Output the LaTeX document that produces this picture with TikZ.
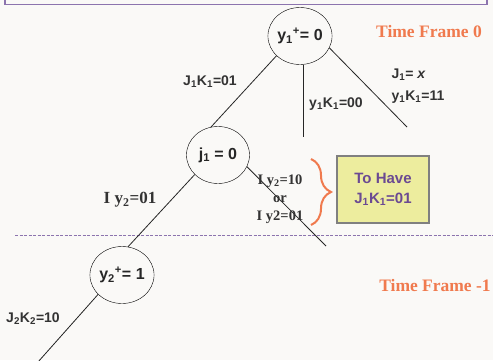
\documentclass[tikz,border=0pt]{standalone}
\usepackage{fontspec}
\setmainfont{Liberation Serif}
\setsansfont{Liberation Sans}
\usepackage{xcolor}
\usepackage{tikz}
\usetikzlibrary{shapes.geometric,decorations.pathreplacing}

\definecolor{bgpaper}{HTML}{FAF9F7}
\definecolor{tforange}{HTML}{F07A4E}
\definecolor{boxfill}{HTML}{EDED9E}
\definecolor{boxtext}{HTML}{6B4A92}
\definecolor{rulepurple}{HTML}{8C74AE}

\tikzset{
  state/.style={ellipse,draw,thin,minimum width=63pt,minimum height=57pt,inner sep=0pt,
    font=\sffamily\bfseries\fontsize{16}{18}\selectfont,text=black!85},
  cond/.style={font=\sffamily\bfseries\fontsize{14}{16}\selectfont,text=black!80},
  inlabel/.style={font=\rmfamily\bfseries\fontsize{14.5}{18}\selectfont,text=black!80},
  tframe/.style={font=\rmfamily\bfseries\fontsize{17.5}{20}\selectfont,text=tforange},
  edge/.style={draw=black!85,line width=0.8pt}
}

\begin{document}
\begin{tikzpicture}[x=1pt,y=-1pt]
    \fill[bgpaper] (0,0) rectangle (493,360);
    \useasboundingbox (0,0) rectangle (493,360);
    % top frame and time frame separator
    \draw[rulepurple,line width=1.5pt] (5,0) -- (5,4.5) -- (487,4.5) -- (487,0);
    \draw[rulepurple,dashed,dash pattern=on 3pt off 1.5pt,line width=0.7pt] (15,235) -- (493,235);

    % states
    \node[state] (y1) at (300,36) {y\textsubscript{1}\textsuperscript{+}= 0};
    \node[state] (j1) at (218,155) {j\textsubscript{1} = 0};
    \node[state] (y2) at (122,275) {y\textsubscript{2}\textsuperscript{+}= 1};

    % free ends
    \coordinate (c0) at (303,137);
    \coordinate (c1) at (407,127);
    \coordinate (c2) at (326,246);
    \coordinate (c3) at (38,362);

    \draw[edge] (y1.220) -- (j1.104);
    \draw[edge] (y1.south -| c0) -- (c0);
    \draw[edge] (y1.-22) -- (c1);
    \draw[edge] (j1.220) -- (y2.78);
    \draw[edge] (j1.-22) -- (c2);
    \draw[edge] (y2.219) -- (c3);

    % conditions
    \node[cond] (k1) at (210,82) {J\textsubscript{1}K\textsubscript{1}=01};
    \node[cond] (k0) at (336,104) {y\textsubscript{1}K\textsubscript{1}=00};
    \node[cond,anchor=west] (jx) at (388,75) {J\textsubscript{1}= \textit{x}};
    \node[cond,anchor=west] (k11) at (388,97) {y\textsubscript{1}K\textsubscript{1}=11};
    \node[cond] (k2) at (33,319) {J\textsubscript{2}K\textsubscript{2}=10};
    \node[inlabel,font=\rmfamily\bfseries\fontsize{17}{20}\selectfont] (iy) at (130,200) {I y\textsubscript{2}=01};
    \node[inlabel,align=center] (ior) at (280,199) {I y\textsubscript{2}=10\\or\\I y2=01};

    % goal box
    \node[draw=black!50,line width=1.5pt,fill=boxfill,minimum width=92pt,minimum height=67pt,
      align=center,font=\sffamily\bfseries\fontsize{15}{20}\selectfont,text=boxtext] (goal) at (383,189.5)
      {To Have\\J\textsubscript{1}K\textsubscript{1}=01};
    \draw[tforange,line width=2pt,decorate,decoration={brace,amplitude=20pt}] (311,159) -- (311,225);

    % time frames
    \node[tframe] (tf0) at (429,32) {Time Frame 0};
    \node[tframe] (tf1) at (435,286) {Time Frame -1};
\end{tikzpicture}
\end{document}
